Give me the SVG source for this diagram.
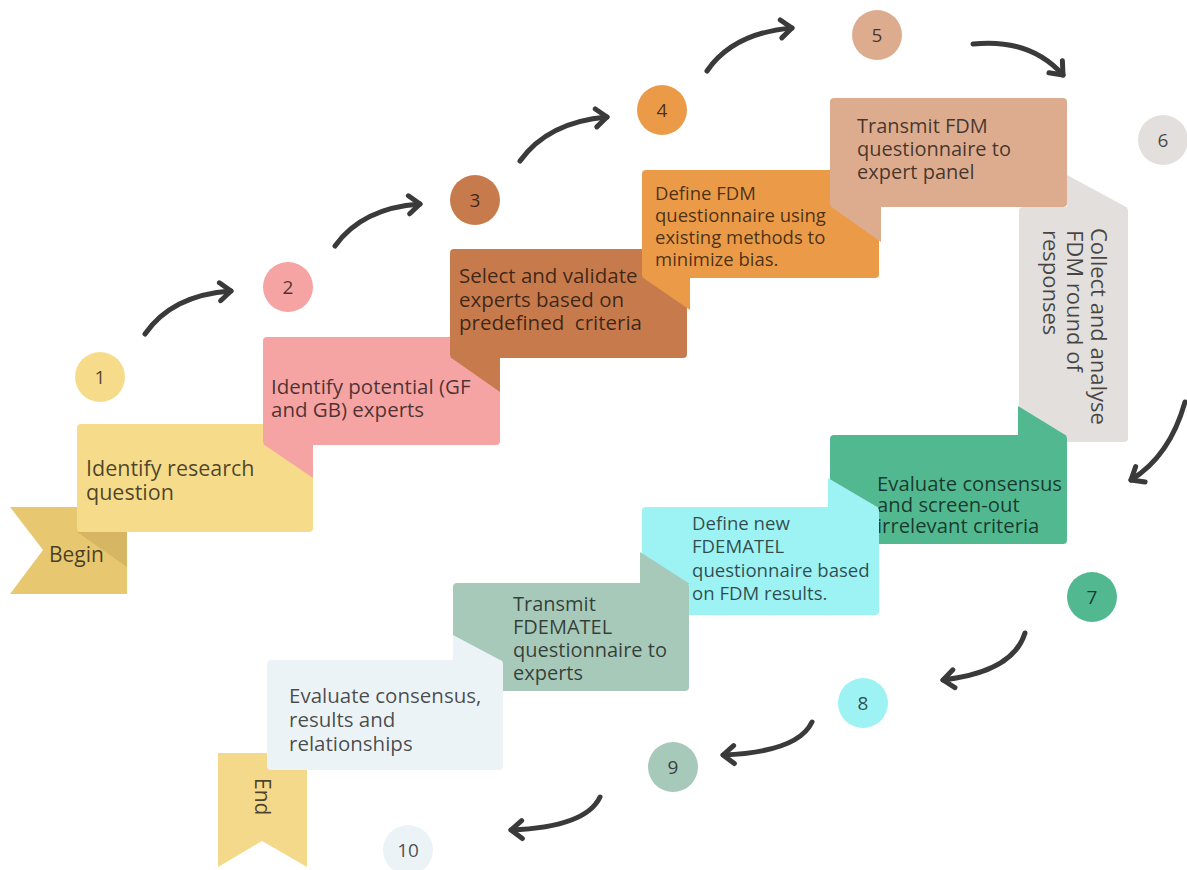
<svg xmlns="http://www.w3.org/2000/svg" width="1187" height="870" viewBox="0 0 1187 870">
<defs>
<style>
text{font-family:"Open Sans","DejaVu Sans",sans-serif;fill:#000;fill-opacity:0.7}
.num{font-size:19px;text-anchor:middle}
.arr{fill:none;stroke:#3a3a3a;stroke-width:5;stroke-linecap:round;marker-end:url(#ah)}
</style>
<marker id="ah" markerUnits="userSpaceOnUse" markerWidth="30" markerHeight="30" viewBox="-15 -15 30 30" refX="0" refY="0" orient="auto">
<path d="M-11,-9 L0,0 L-11,9" fill="none" stroke="#3a3a3a" stroke-width="5" stroke-linecap="round" stroke-linejoin="round"/>
</marker>
</defs>
<rect width="1187" height="870" fill="#fff"/>

<g id="begin">
<polygon points="10,507 127,507 127,594 10,594 43,550" fill="#E7C871"/>
</g>
<g id="end">
<polygon points="218,753 307,753 307,867 262,841 218,867" fill="#F5D98A"/>
<text transform="translate(255,778) rotate(90)" font-size="21">End</text>
</g>

<g id="step1">
<rect x="77" y="424" width="236" height="108" rx="4" fill="#F6DC8A"/>
<polygon points="77,532 127,532 127,567" fill="#D6B662"/>
<text x="86" y="476" font-size="21.5">Identify research</text>
<text x="86" y="500" font-size="21.5">question</text>
</g>
<text x="49" y="562" font-size="21">Begin</text>

<g id="step2">
<rect x="263" y="337" width="237" height="108" rx="4" fill="#F5A3A3"/>
<polygon points="263,444 313,444 313,478" fill="#F5A3A3"/>
<text x="271" y="394" font-size="20.5">Identify potential (GF</text>
<text x="271" y="417" font-size="20.5">and GB) experts</text>
</g>

<g id="step3">
<rect x="450" y="249" width="237" height="109" rx="4" fill="#C77B4D"/>
<polygon points="450,357 500,357 500,392" fill="#C77B4D"/>
<text x="459" y="283" font-size="20.5">Select and validate</text>
<text x="459" y="307" font-size="20.5">experts based on</text>
<text x="459" y="330" font-size="20.5" xml:space="preserve">predefined  criteria</text>
</g>

<g id="step4">
<rect x="642" y="170" width="237" height="108" rx="4" fill="#EB9B48"/>
<polygon points="642,277 690,277 690,310" fill="#EB9B48"/>
<text x="655" y="200" font-size="18.5">Define FDM</text>
<text x="655" y="222" font-size="18.5">questionnaire using</text>
<text x="655" y="244" font-size="18.5">existing methods to</text>
<text x="655" y="266" font-size="18.5">minimize bias.</text>
</g>

<g id="step5">
<rect x="830" y="98" width="237" height="109" rx="4" fill="#DDAC8E"/>
<polygon points="830,206 881,206 881,242" fill="#DDAC8E"/>
<text x="857" y="133" font-size="20">Transmit FDM</text>
<text x="857" y="156" font-size="20">questionnaire to</text>
<text x="857" y="179" font-size="20">expert panel</text>
</g>

<g id="step6">
<rect x="1019" y="207" width="109" height="235" rx="4" fill="#E3DFDC"/>
<polygon points="1067,175 1067,208 1128,208" fill="#E3DFDC"/>
<text transform="translate(1091,228) rotate(90)" font-size="22">Collect and analyse</text>
<text transform="translate(1067,230) rotate(90)" font-size="22">FDM round of</text>
<text transform="translate(1043,230) rotate(90)" font-size="22">responses</text>
</g>

<g id="step7">
<rect x="830" y="435" width="237" height="109" rx="4" fill="#52B890"/>
<polygon points="1018,406 1018,436 1067,436" fill="#52B890"/>
<text x="877" y="491" font-size="20.3">Evaluate consensus</text>
<text x="877" y="512" font-size="20.3">and screen-out</text>
<text x="877" y="533" font-size="20.3">irrelevant criteria</text>
</g>

<g id="step8">
<rect x="642" y="507" width="237" height="108" rx="4" fill="#9DF2F3"/>
<polygon points="828,478 828,508 879,508" fill="#9DF2F3"/>
<text x="692" y="530" font-size="18.6">Define new</text>
<text x="692" y="553" font-size="18.6">FDEMATEL</text>
<text x="692" y="577" font-size="18.6">questionnaire based</text>
<text x="692" y="600" font-size="18.6">on FDM results.</text>
</g>

<g id="step9">
<rect x="453" y="583" width="236" height="108" rx="4" fill="#A7C9B9"/>
<polygon points="640,552 640,584 690,584" fill="#A7C9B9"/>
<text x="513" y="611" font-size="20">Transmit</text>
<text x="513" y="634" font-size="20">FDEMATEL</text>
<text x="513" y="657" font-size="20">questionnaire to</text>
<text x="513" y="680" font-size="20">experts</text>
</g>

<g id="step10">
<rect x="267" y="660" width="236" height="110" rx="4" fill="#ECF3F6"/>
<polygon points="453,635 453,661 502,661" fill="#ECF3F6"/>
<text x="289" y="703" font-size="20.5">Evaluate consensus,</text>
<text x="289" y="727" font-size="20.5">results and</text>
<text x="289" y="751" font-size="20.5">relationships</text>
</g>

<g id="num1"><circle cx="100" cy="377" r="25" fill="#F6DC8A"/><text class="num" x="100" y="384">1</text></g>
<g id="num2"><circle cx="288" cy="287" r="25" fill="#F5A3A3"/><text class="num" x="288" y="294">2</text></g>
<g id="num3"><circle cx="475" cy="200" r="25" fill="#C77B4D"/><text class="num" x="475" y="207">3</text></g>
<g id="num4"><circle cx="662" cy="110" r="25" fill="#EB9B48"/><text class="num" x="662" y="117">4</text></g>
<g id="num5"><circle cx="877" cy="35" r="25" fill="#DDAC8E"/><text class="num" x="877" y="42">5</text></g>
<g id="num6"><circle cx="1163" cy="140" r="25" fill="#E3DFDC"/><text class="num" x="1163" y="147">6</text></g>
<g id="num7"><circle cx="1092" cy="597" r="25" fill="#52B890"/><text class="num" x="1092" y="604">7</text></g>
<g id="num8"><circle cx="863" cy="703" r="25" fill="#9DF2F3"/><text class="num" x="863" y="710">8</text></g>
<g id="num9"><circle cx="673" cy="767" r="25" fill="#A7C9B9"/><text class="num" x="673" y="774">9</text></g>
<g id="num10"><circle cx="408" cy="850" r="25" fill="#ECF3F6"/><text class="num" x="408" y="857">10</text></g>

<g id="connectors">
<path class="arr" d="M145,334 Q172,295 231,291"/>
<path class="arr" d="M335,246 Q362,208 420,204"/>
<path class="arr" d="M520,161 Q548,122 607,117"/>
<path class="arr" d="M707,71 Q733,33 792,28"/>
<path class="arr" d="M973,44 Q1030,38 1063,75"/>
<path class="arr" d="M1185,402 Q1170,456 1131,480"/>
<path class="arr" d="M1025,633 Q1013,672 943,680"/>
<path class="arr" d="M812,722 Q798,752 723,755"/>
<path class="arr" d="M600,797 Q586,827 511,830"/>
</g>
</svg>
